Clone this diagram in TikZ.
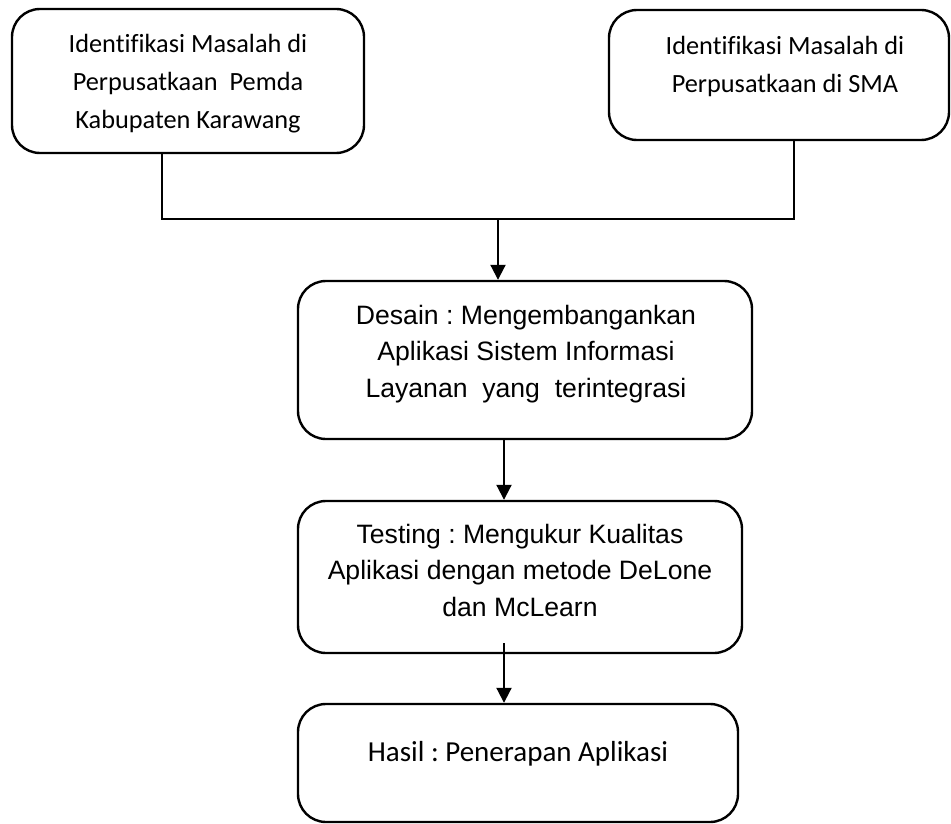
\documentclass[tikz,border=0pt]{standalone}
\usepackage{fontspec}
\usetikzlibrary{arrows.meta}
\newfontfamily\calfont[Ligatures=NoCommon]{Carlito}
\newfontfamily\arifont{Liberation Sans}
\begin{document}
\begin{tikzpicture}[x=1pt,y=-1pt,
  box/.style={draw, line width=2.4pt, rounded corners=28pt, inner sep=0pt},
  caltext/.style={align=center, inner sep=0pt, font=\frenchspacing\calfont\fontsize{26.3}{38}\selectfont},
  bigcaltext/.style={align=center, inner sep=0pt, font=\frenchspacing\calfont\fontsize{29}{38}\selectfont},
  aritext/.style={align=center, inner sep=0pt, font=\frenchspacing\arifont\fontsize{26.6}{36.5}\selectfont},
  thinline/.style={line width=1.2pt},
  arrowline/.style={line width=2pt, -{Triangle[width=15pt,length=15pt]}}]
\useasboundingbox (0,0) rectangle (951,824);
% boxes
\node[box, minimum width=352pt, minimum height=144pt] (b1) at (188,81) {};
\node[box, minimum width=340pt, minimum height=130pt] (b2) at (779,75) {};
\node[box, minimum width=454pt, minimum height=158pt] (b3) at (525,360) {};
\node[box, minimum width=444pt, minimum height=152pt] (b4) at (520,577) {};
\node[box, minimum width=440pt, minimum height=118pt] (b5) at (518,763) {};
% texts
\node[caltext] (t1) at (188,84) {Identifikasi Masalah di\\Perpusatkaan\ \ Pemda\\Kabupaten Karawang};
\node[caltext] (t2) at (785,66) {Identifikasi Masalah di\\Perpusatkaan di SMA};
\node[aritext] (t3) at (526,354) {Desain : Mengembangankan\\Aplikasi Sistem Informasi\\Layanan\ \ yang\ \ terintegrasi};
\node[aritext] (t4) at (520,570) {Testing : Mengukur Kualitas\\Aplikasi dengan metode DeLone\\dan McLearn};
\node[bigcaltext] (t5) at (518,754) {Hasil : Penerapan Aplikasi};
% connectors
\coordinate (j1) at (162,219);
\coordinate (j2) at (794,219);
\coordinate (jm) at (498,219);
\coordinate (c34) at (504,643);
\coordinate (x34) at (504,0);
\draw[thinline] (b1.south -| j1) -- (j1) -- (j2) -- (b2.south -| j2);
\draw[arrowline] (jm) -- (b3.north -| jm);
\draw[arrowline] (b3.south -| x34) -- (b4.north -| x34);
\draw[arrowline] (c34) -- (b5.north -| c34);
\end{tikzpicture}
\end{document}
